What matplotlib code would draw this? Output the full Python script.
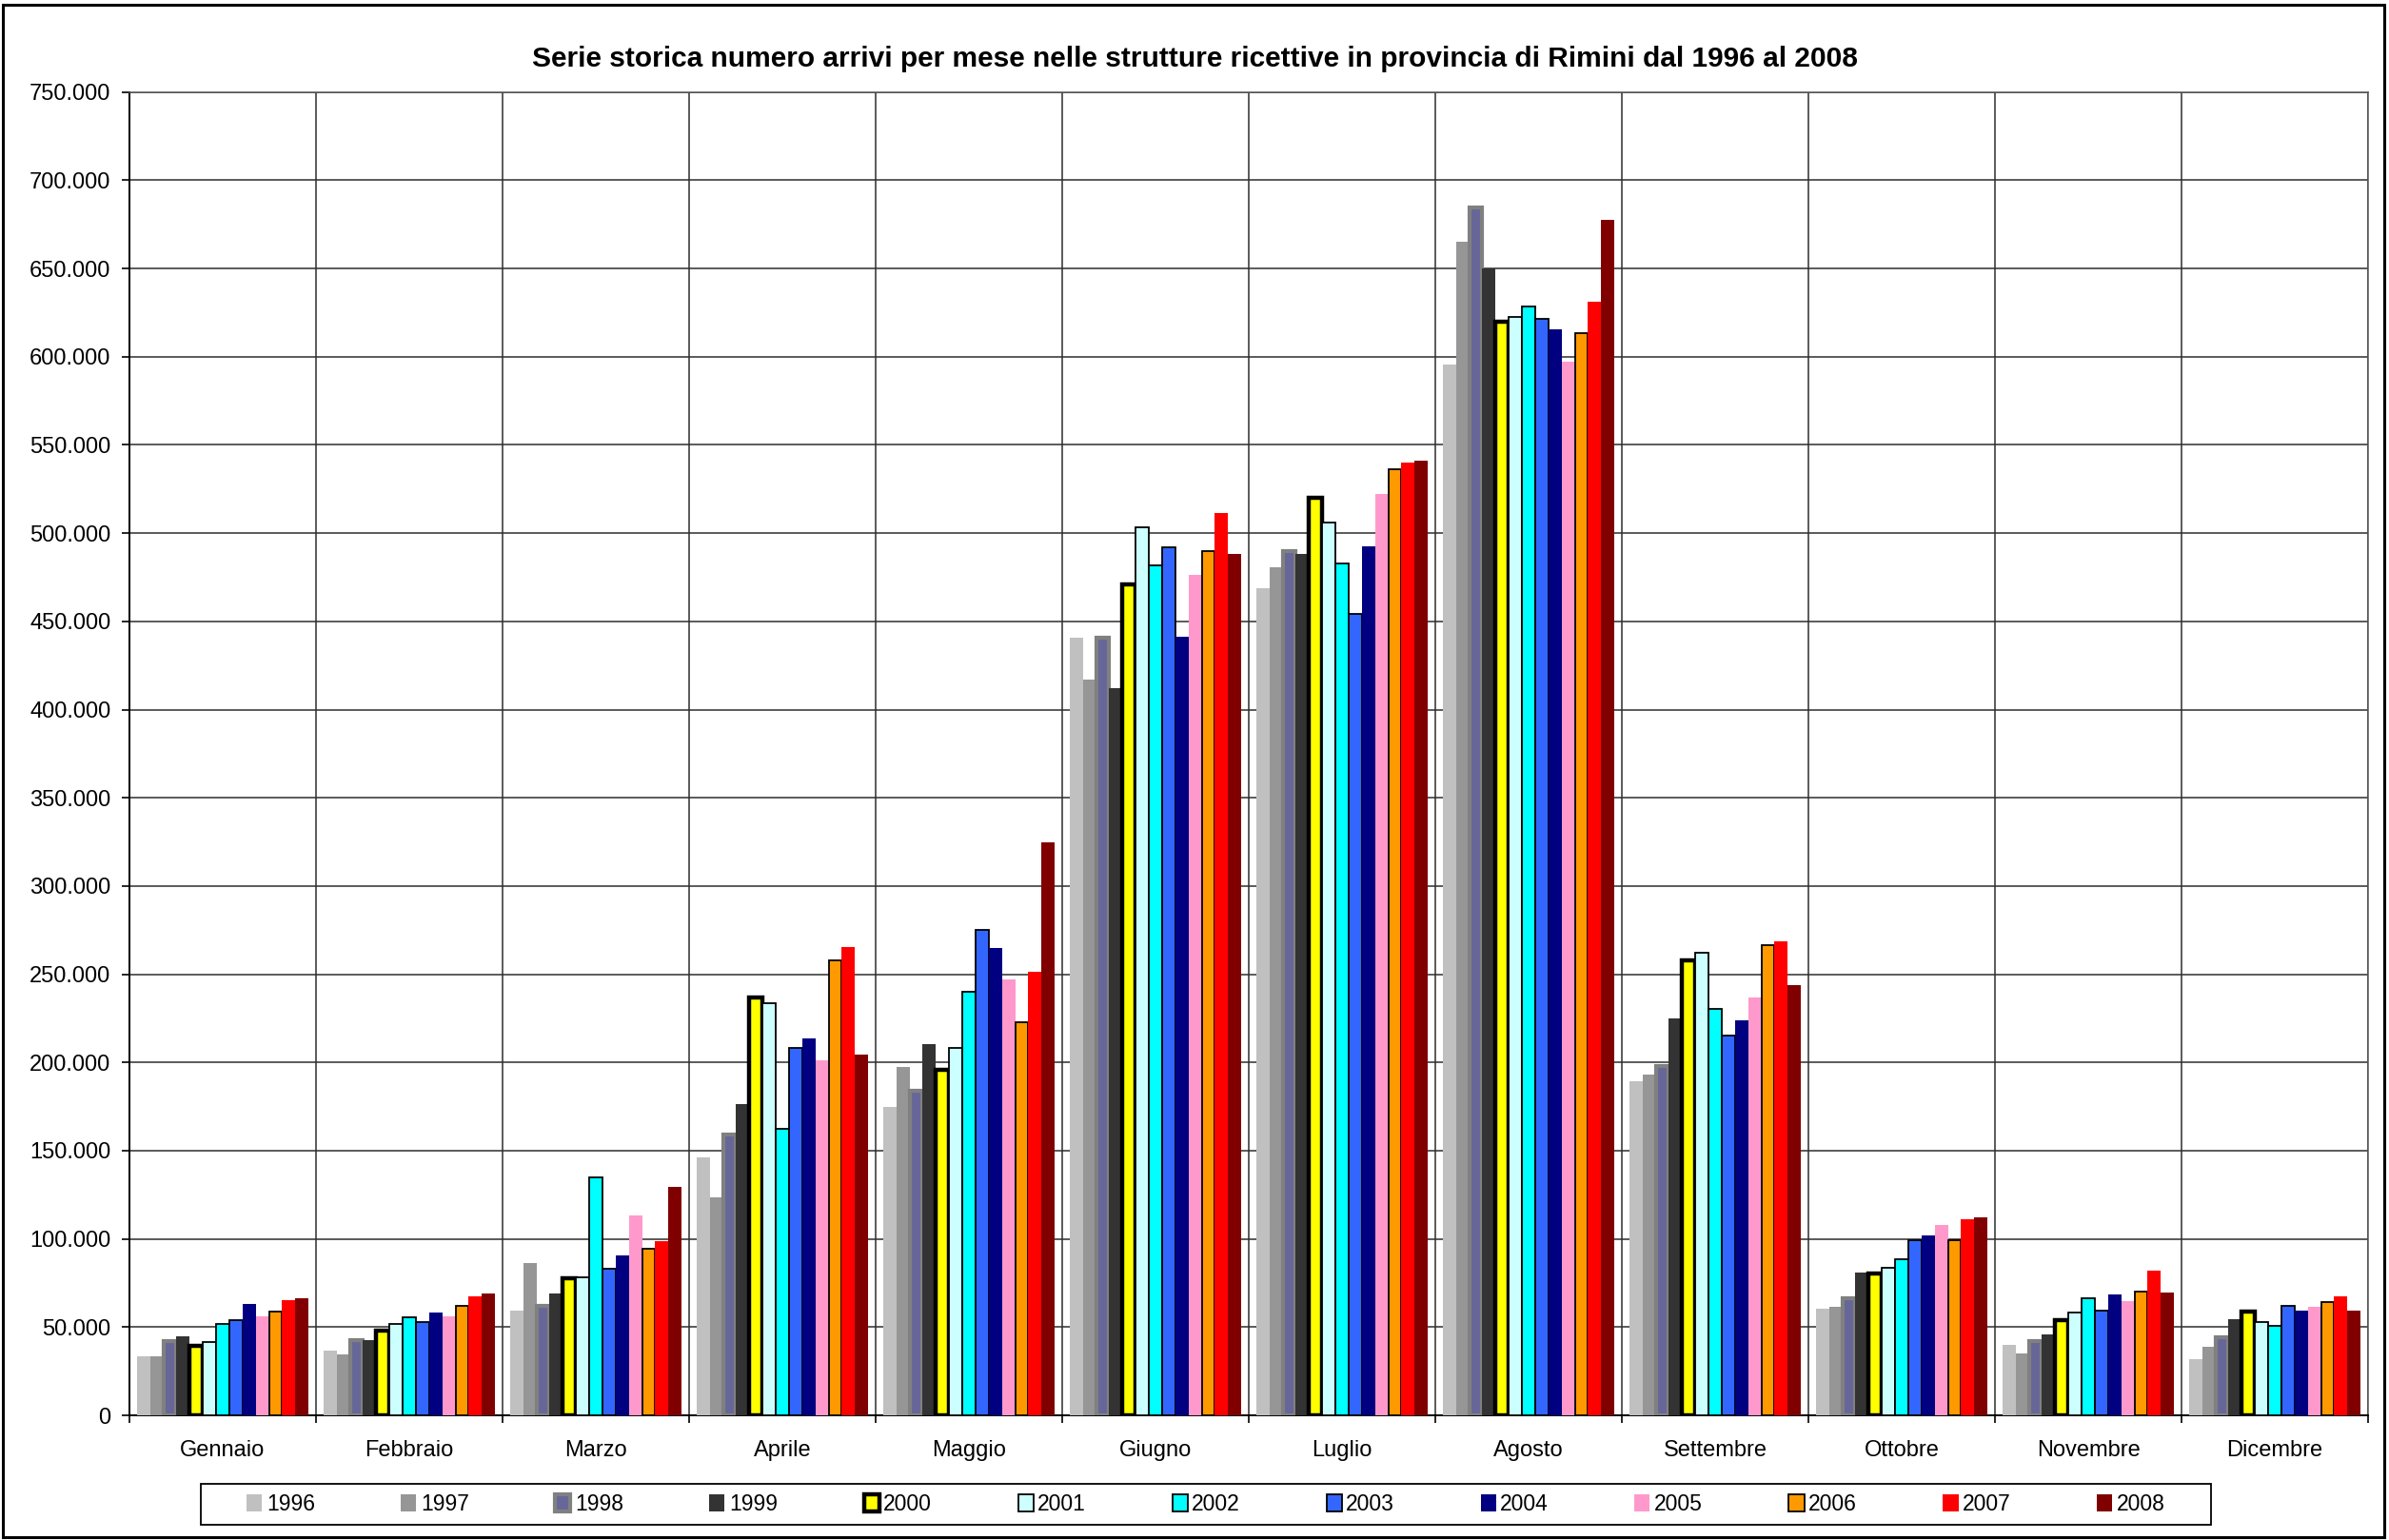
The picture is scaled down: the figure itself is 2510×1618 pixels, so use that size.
import matplotlib
matplotlib.use("Agg")
import matplotlib.pyplot as plt
from matplotlib.patches import Rectangle
from matplotlib.ticker import FixedLocator, FuncFormatter
import numpy as np

plt.rcParams['font.family'] = ['Liberation Sans', 'DejaVu Sans']

months = ["Gennaio", "Febbraio", "Marzo", "Aprile", "Maggio", "Giugno",
          "Luglio", "Agosto", "Settembre", "Ottobre", "Novembre", "Dicembre"]
years = ["1996", "1997", "1998", "1999", "2000", "2001", "2002",
         "2003", "2004", "2005", "2006", "2007", "2008"]

v1996 = [33600, 36800, 59200, 146000, 174800, 441000, 468900, 595300, 189400, 60400, 40100, 31800]
v1997 = [33600, 34700, 86500, 123700, 197500, 416800, 480900, 665400, 193300, 61300, 35000, 39000]
v1998 = [41900, 42800, 62000, 159300, 184100, 441000, 489700, 684600, 198200, 66400, 41900, 44100]
v1999 = [44900, 42800, 69200, 176600, 210600, 411900, 488000, 650100, 225000, 80800, 46000, 54300]
v2000 = [39500, 48000, 77500, 237000, 196000, 471000, 520000, 620000, 258000, 80500, 54000, 59000]
v2001 = [41700, 51600, 78200, 233700, 208200, 503200, 506100, 622300, 262000, 83500, 58100, 52900]
v2002 = [51800, 55700, 134700, 162200, 239800, 481600, 482900, 628500, 230600, 88700, 66200, 50900]
v2003 = [53900, 52700, 83200, 208300, 274900, 491900, 454300, 621400, 215500, 99100, 59200, 62200]
v2004 = [63300, 58000, 90800, 213400, 264900, 441200, 492300, 615600, 223900, 102200, 68500, 59500]
v2005 = [56100, 56100, 113200, 201200, 247100, 476100, 522000, 597100, 236900, 108100, 64600, 61300]
v2006 = [59000, 62000, 94400, 258000, 222700, 489900, 536000, 613300, 266400, 99100, 70300, 64400]
v2007 = [65300, 67400, 98900, 265500, 251300, 511500, 540000, 631300, 268500, 111300, 81800, 67400]
v2008 = [66200, 69200, 129600, 204300, 324500, 488000, 541000, 677600, 244100, 112400, 69600, 59400]

series = [v1996, v1997, v1998, v1999, v2000, v2001, v2002,
          v2003, v2004, v2005, v2006, v2007, v2008]

colors = ['#C0C0C0', '#969696', '#666699', '#333333', '#FFFF00', '#CCFFFF', '#00FFFF',
          '#3366FF', '#000080', '#FF99CC', '#FF9900', '#FF0000', '#800000']
edgecolors = ['none', 'none', '#808080', 'none', '#000000', '#000000', '#000000',
              '#000000', 'none', 'none', '#000000', 'none', 'none']
linewidths = [0, 0, 3.0, 0, 3.2, 1.3, 1.3, 1.3, 0, 0, 1.3, 0, 0]

title = "Serie storica numero arrivi per mese nelle strutture ricettive in provincia di Rimini dal 1996 al 2008"

W, H = 2510, 1618
fig = plt.figure(figsize=(W / 100, H / 100), dpi=100)
ax = fig.add_axes([136 / W, 1 - 1487 / H, (2488 - 136) / W, (1487 - 96.7) / H])

n = len(series)
w = 0.92 / n
x = np.arange(len(months))
handles = []
for j, vals in enumerate(series):
    b = ax.bar(x + (j - (n - 1) / 2) * w, vals, width=w, color=colors[j],
               edgecolor=edgecolors[j], linewidth=linewidths[j], label=years[j], zorder=3)
    handles.append(b)

ax.set_xlim(-0.5, len(months) - 0.5)
ax.set_ylim(0, 750000)
ax.set_yticks(np.arange(0, 750001, 50000))
ax.yaxis.set_major_formatter(FuncFormatter(lambda v, p: f"{int(v):,}".replace(',', '.')))
ax.tick_params(axis='y', labelsize=17, length=6, width=1.2, pad=8, color='#000000')

ax.xaxis.set_major_locator(FixedLocator(np.arange(-0.5, len(months), 1.0)))
ax.xaxis.set_minor_locator(FixedLocator(x))
ax.xaxis.set_major_formatter(FuncFormatter(lambda v, p: ""))
ax.set_xticklabels(months, minor=True)
ax.tick_params(axis='x', which='major', length=6, width=1.2, direction='out')
ax.tick_params(axis='x', which='minor', length=0, labelsize=17, pad=19)

ax.set_axisbelow(True)
ax.grid(True, axis='both', which='major', color='#2e2e2e', linewidth=1.1, zorder=0)
for s in ['top', 'right']:
    ax.spines[s].set_color('#555555')
    ax.spines[s].set_linewidth(1.1)
for s in ['left', 'bottom']:
    ax.spines[s].set_color('#000000')
    ax.spines[s].set_linewidth(1.4)

fig.text(0.5, 1 - 62 / H, title, ha='center', va='center', fontsize=21.5, fontweight='bold')

# legend box
lx0, lx1, ly0, ly1 = 211, 2323, 1559, 1602
fig.patches.append(Rectangle((lx0 / W, 1 - ly1 / H), (lx1 - lx0) / W, (ly1 - ly0) / H,
                             transform=fig.transFigure, facecolor='white',
                             edgecolor='#000000', linewidth=1.3, zorder=1))
leg = fig.legend(handles=handles, labels=years, loc='center',
                 bbox_to_anchor=(((lx0 + lx1) / 2) / W, 1 - ((ly0 + ly1) / 2) / H),
                 ncol=13, frameon=False, fontsize=16.5, handlelength=0.7, handleheight=0.8,
                 handletextpad=0.2, columnspacing=3.95, borderpad=0.2)

# outer border
fig.patches.append(Rectangle((3 / W, 3 / H), 1 - 8 / W, 1 - 8 / H, transform=fig.transFigure,
                             facecolor='none', edgecolor='#000000', linewidth=2.2, zorder=5))

fig.savefig("out.png", dpi=100, facecolor='white')
